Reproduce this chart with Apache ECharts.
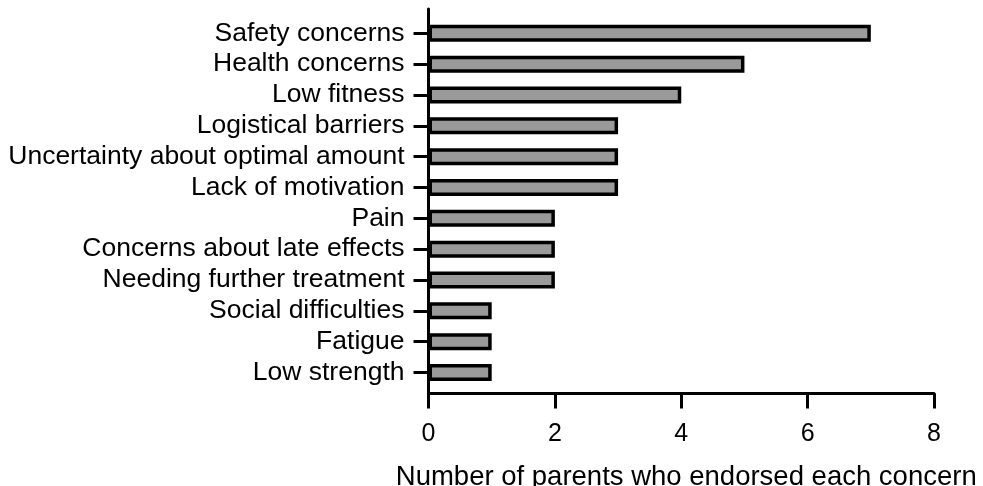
<!DOCTYPE html>
<html>
<head>
<meta charset="utf-8">
<script src="https://cdn.jsdelivr.net/npm/echarts@6/dist/echarts.min.js"></script>
<style>
  html, body { margin: 0; padding: 0; background: #fff; }
  #main { width: 983px; height: 486px; }
</style>
</head>
<body>
<div id="main"></div>
<script>
const categories = [
  "Safety concerns",
  "Health concerns",
  "Low fitness",
  "Logistical barriers",
  "Uncertainty about optimal amount",
  "Lack of motivation",
  "Pain",
  "Concerns about late effects",
  "Needing further treatment",
  "Social difficulties",
  "Fatigue",
  "Low strength",
];
const counts = [7, 5, 4, 3, 3, 3, 2, 2, 2, 1, 1, 1];
const xTicks = [0, 2, 4, 6, 8];
const xTitle = "Number of parents who endorsed each concern";

const font = "Liberation Sans, Arial, sans-serif";

function chartOption() {
  return {
    animation: false,
    grid: [
      { left: 428.5, right: 49, top: 17.9, height: 370, outerBoundsMode: "none" },
      { left: 428.5, right: 49, top: 9, bottom: 92.5, outerBoundsMode: "none" },
    ],
    xAxis: [
      {
        gridIndex: 0,
        type: "value",
        min: xTicks[0],
        max: xTicks[xTicks.length - 1],
        show: false,
      },
      {
        gridIndex: 1,
        type: "value",
        min: xTicks[0],
        max: xTicks[xTicks.length - 1],
        interval: 2,
        name: xTitle,
        nameLocation: "middle",
        nameGap: 70,
        nameTextStyle: { color: "#000", fontSize: 27.5, fontFamily: font, padding: [0, 0, 0, 10] },
        axisLine: { show: true, lineStyle: { color: "#000", width: 3 } },
        axisTick: { show: true, length: 15, lineStyle: { color: "#000", width: 3 } },
        axisLabel: { color: "#000", fontSize: 25, fontFamily: font, margin: 28 },
        splitLine: { show: false },
      },
    ],
    yAxis: [
      {
        gridIndex: 0,
        type: "category",
        inverse: true,
        data: categories,
        axisLine: { show: false },
        axisTick: {
          show: true,
          alignWithLabel: true,
          interval: 0,
          length: 15,
          lineStyle: { color: "#000", width: 3 },
        },
        axisLabel: { color: "#000", fontSize: 26.5, fontFamily: font, margin: 24, interval: 0 },
        splitLine: { show: false },
      },
      {
        gridIndex: 1,
        type: "value",
        axisLine: { show: true, lineStyle: { color: "#000", width: 3 } },
        axisTick: { show: false },
        axisLabel: { show: false },
        splitLine: { show: false },
      },
    ],
    series: [
      {
        type: "bar",
        xAxisIndex: 0,
        yAxisIndex: 0,
        data: counts,
        barWidth: 17,
        itemStyle: { color: "#9a9a9a", borderColor: "#000", borderWidth: 3.5 },
      },
    ],
  };
}

const chart = echarts.init(document.getElementById("main"));
chart.setOption(chartOption());
</script>
</body>
</html>
